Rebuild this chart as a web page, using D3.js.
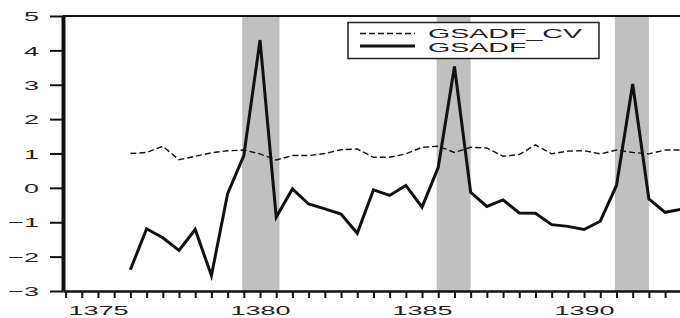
<!DOCTYPE html>
<html>
<head>
<meta charset="utf-8">
<script src="https://cdn.jsdelivr.net/npm/d3@7"></script>
<style>
  body { margin: 0; background: #fff; }
  text { font-family: "Liberation Sans", Arial, sans-serif; fill: #222; }
</style>
</head>
<body>
<div id="chart"></div>
<script>
const w = 680;
const h = 318;

// semi-annual observations
const periods = [1376, 1376.5, 1377, 1377.5, 1378, 1378.5, 1379, 1379.5, 1380, 1380.5,
  1381, 1381.5, 1382, 1382.5, 1383, 1383.5, 1384, 1384.5, 1385, 1385.5,
  1386, 1386.5, 1387, 1387.5, 1388, 1388.5, 1389, 1389.5, 1390, 1390.5,
  1391, 1391.5, 1392, 1392.5, 1393];
const gsadf = [-2.38, -1.19, -1.45, -1.82, -1.21, -2.55, -0.17, 0.94, 4.3, -0.85,
  -0.03, -0.47, -0.61, -0.76, -1.32, -0.06, -0.22, 0.07, -0.56, 0.6,
  3.53, -0.13, -0.54, -0.35, -0.73, -0.74, -1.07, -1.12, -1.21, -0.97,
  0.07, 3.02, -0.32, -0.71, -0.62];
const gsadfCv = [1.0, 1.03, 1.21, 0.82, 0.92, 1.02, 1.08, 1.1, 0.99, 0.81,
  0.94, 0.94, 1.0, 1.11, 1.13, 0.89, 0.89, 0.99, 1.18, 1.21,
  1.03, 1.18, 1.16, 0.92, 0.97, 1.25, 0.99, 1.07, 1.08, 0.99,
  1.1, 1.03, 0.99, 1.1, 1.1];
// shaded bubble periods
const bubbleStart = [1379.45, 1385.45, 1390.95];
const bubbleEnd = [1380.6, 1386.5, 1392];

const yTicks = [-3, -2, -1, 0, 1, 2, 3, 4, 5];
const xLabels = [1375, 1380, 1385, 1390];
const seriesNames = ['GSADF_CV', 'GSADF'];

const padL = 63, padR = 680, padT = 16, padB = 291;
const sx = 2.0; // stretched glyphs

const x = d3.scaleLinear().domain([1373.92, 1392.96]).range([padL, padR]);
const y = d3.scaleLinear().domain([-3, 5]).range([padB, padT]);

const svg = d3.select('#chart').append('svg')
  .attr('width', w).attr('height', h);

svg.append('clipPath').attr('id', 'clip')
  .append('rect').attr('x', padL).attr('y', padT)
  .attr('width', padR - padL).attr('height', padB - padT);

const plot = svg.append('g').attr('clip-path', 'url(#clip)');

plot.selectAll('rect.bubble')
  .data(d3.zip(bubbleStart, bubbleEnd))
  .enter().append('rect')
  .attr('class', 'bubble')
  .attr('x', d => x(d[0]))
  .attr('width', d => x(d[1]) - x(d[0]))
  .attr('y', y(5))
  .attr('height', y(-3) - y(5))
  .style('fill', '#c0c0c0');

const line = d3.line().x(d => x(d[0])).y(d => y(d[1]));

plot.append('path')
  .datum(d3.zip(periods, gsadfCv))
  .attr('d', line)
  .style('fill', 'none')
  .style('stroke', '#111')
  .style('stroke-width', 1.4)
  .style('stroke-dasharray', '6,3');

plot.append('path')
  .datum(d3.zip(periods, gsadf))
  .attr('d', line)
  .style('fill', 'none')
  .style('stroke', '#111')
  .style('stroke-width', 3)
  .style('stroke-linejoin', 'miter');

// top border
svg.append('line')
  .attr('x1', padL).attr('x2', padR)
  .attr('y1', padT).attr('y2', padT)
  .style('stroke', '#111').style('stroke-width', 2);

// y axis
const yAxis = svg.append('g')
  .attr('transform', `translate(${padL},0)`)
  .call(d3.axisLeft(y).tickValues(yTicks).tickSize(13).tickSizeOuter(0));
yAxis.select('.domain').style('stroke', '#111').style('stroke-width', 4);
yAxis.selectAll('.tick line').style('stroke', '#111').style('stroke-width', 2);
yAxis.selectAll('.tick text')
  .attr('x', -12).attr('dy', '0.35em')
  .attr('transform', `scale(${sx},1)`)
  .style('font-size', '13.5px');

// x axis
const halfYears = d3.range(1374, 1393.01, 0.5);
const xAxis = svg.append('g')
  .attr('transform', `translate(0,${padB})`)
  .call(d3.axisBottom(x).tickValues(halfYears).tickSize(7).tickSizeOuter(0)
    .tickFormat(d => xLabels.includes(d) ? d : ''));
xAxis.select('.domain').style('stroke', '#111').style('stroke-width', 2.5);
xAxis.selectAll('.tick line').style('stroke', '#111').style('stroke-width', 2);
xAxis.selectAll('.tick text')
  .attr('y', 24).attr('dy', 0)
  .attr('transform', `scale(${sx},1)`)
  .style('font-size', '13.5px');

// legend
const lg = svg.append('g');
lg.append('rect')
  .attr('x', 348).attr('y', 22.5).attr('width', 251).attr('height', 36)
  .style('fill', '#fff').style('stroke', '#222').style('stroke-width', 1.5);
lg.append('line').attr('x1', 360).attr('x2', 415).attr('y1', 33.5).attr('y2', 33.5)
  .style('stroke', '#111').style('stroke-width', 1.4).style('stroke-dasharray', '6,3');
lg.append('line').attr('x1', 360).attr('x2', 415).attr('y1', 46).attr('y2', 46)
  .style('stroke', '#111').style('stroke-width', 3);
lg.selectAll('text.lab')
  .data(seriesNames)
  .enter().append('text')
  .attr('class', 'lab')
  .attr('transform', (d, i) => `translate(428,${38 + i * 13.5}) scale(2.2,1)`)
  .style('font-size', '13px')
  .text(d => d);
</script>
</body>
</html>
